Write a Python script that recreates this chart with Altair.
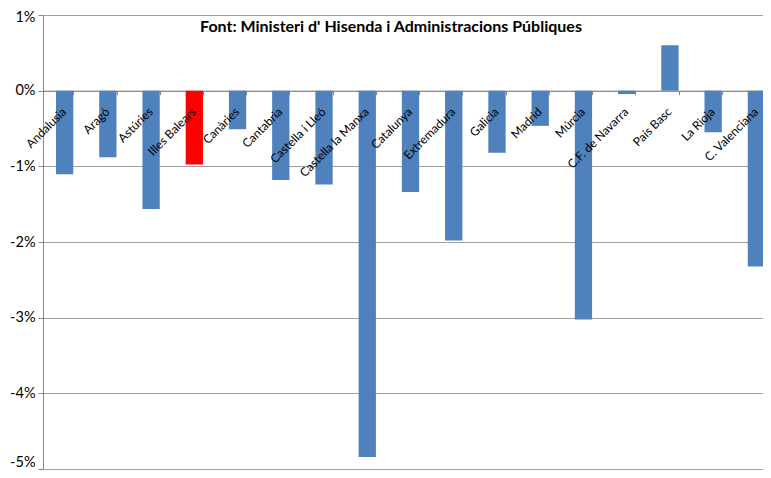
import altair as alt
import pandas as pd

regions = ["Andalusia", "Aragó", "Astúries", "Illes Balears", "Canàries", "Cantabria",
           "Castella i Lleó", "Castella la Manxa", "Catalunya", "Extremadura", "Galicia",
           "Madrid", "Múrcia", "C.F. de Navarra", "País Basc", "La Rioja", "C. Valenciana"]
values = [-1.105, -0.88, -1.565, -0.975, -0.51, -1.18, -1.24, -4.84, -1.34, -1.98,
          -0.82, -0.465, -3.025, -0.045, 0.6, -0.55, -2.325]
highlight = ["Illes Balears"]
y_ticks = [-5, -4, -3, -2, -1, 0, 1]
title_text = "Font: Ministeri d' Hisenda i Administracions Públiques"

df = pd.DataFrame({
    "region": regions,
    "value": values,
    "group": ["hl" if r in highlight else "base" for r in regions],
})

W, H = 720, 454
X_RANGE = 735
zero_from_top = H / 6.0  # domain [-5, 1]

x_enc = alt.X(
    "region:N", sort=regions,
    scale=alt.Scale(paddingInner=0.6, paddingOuter=0.3, range=[0, X_RANGE]),
    axis=alt.Axis(labels=False, title=None, domain=True, domainColor="#868686",
                  ticks=True, tickColor="#868686", tickSize=4, tickBand="extent",
                  grid=False, offset=-(H - zero_from_top)),
)
y_scale = alt.Scale(domain=[-5, 1], nice=False, zero=False)

bars = alt.Chart(df).mark_bar().encode(
    x=x_enc,
    y=alt.Y("value:Q", scale=y_scale,
            axis=alt.Axis(values=y_ticks, labelExpr="datum.value + '%'", title=None,
                          grid=True, gridColor="#a0a0a0", gridWidth=1,
                          domain=True, domainColor="#868686", ticks=True,
                          tickColor="#868686", tickSize=5, labelPadding=3,
                          labelFont="Lato", labelFontSize=14.5, labelColor="#000000",
                          labelOffset={"condition": {"test": "datum.value == 1",
                                                     "value": 2},
                                       "value": 0},
                          labelBaseline={"condition": {"test": "datum.value == -5",
                                                       "value": "bottom"},
                                         "value": "middle"})),
    y2=alt.datum(0),
    color=alt.Color("group:N", scale=alt.Scale(domain=["base", "hl"],
                                               range=["#4F81BD", "#FF0000"]),
                    legend=None),
)

labels = alt.Chart(df).mark_text(
    angle=315, align="right", baseline="alphabetic", dx=-13.8, dy=17.3,
    font="Lato", fontSize=12, color="#000000",
).encode(
    x=alt.X("region:N", sort=regions),
    y=alt.datum(0),
    text="region:N",
)

chart = alt.layer(bars, labels).properties(
    width=W, height=H,
    padding={"left": 35, "top": 7, "right": 0, "bottom": 1},
    autosize=alt.AutoSizeParams(type="none"),
    title=alt.Title(title_text, font="Lato", fontSize=16, fontWeight="bold",
                    anchor="middle", dx=-12, dy=30, color="#000000"),
).configure_view(stroke=None).configure(background="#ffffff")

chart.save("out.html", embed_options={"renderer": "svg", "actions": False})
